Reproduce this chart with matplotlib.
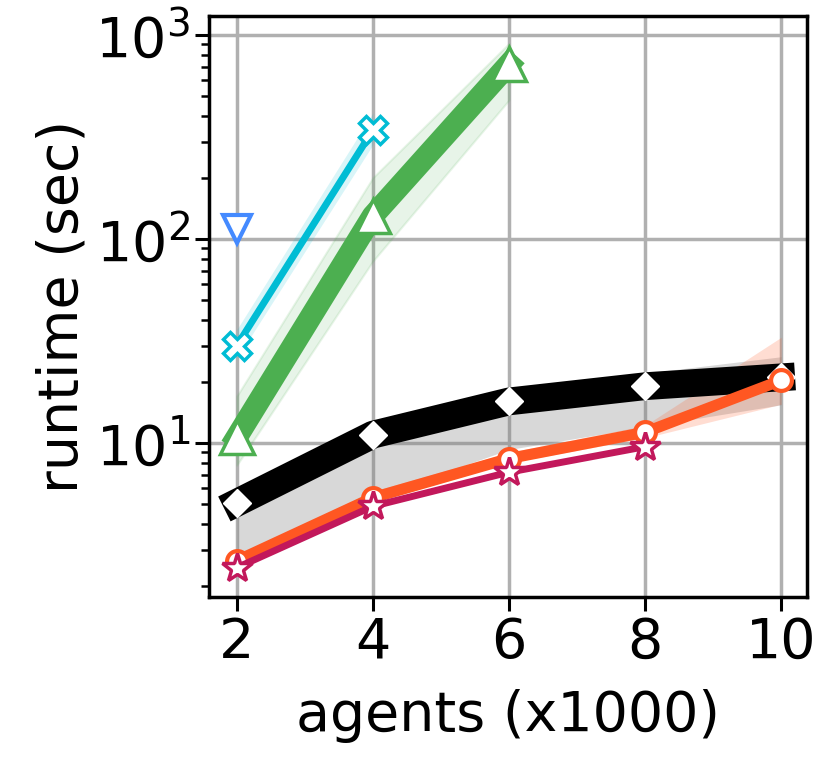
import numpy as np
import matplotlib
matplotlib.use("Agg")
import matplotlib.pyplot as plt

# agents (x1000)
x_all = [2, 4, 6, 8, 10]

# runtime (sec)
blue_x = [2]
blue_y = [112]

cyan_x = [2, 4]
cyan_y = [30, 342]
cyan_lo = [26, 290]
cyan_hi = [36, 415]

green_x = [2, 4, 6]
green_y = [10.7, 130, 720]
green_lo = [7.8, 78, 480]
green_hi = [17, 200, 910]

black_x = [2, 4, 6, 8, 10]
black_y = [5.1, 11.0, 16.0, 19.0, 21.0]
black_lo = [2.6, 5.4, 9.3, 12.0, 15.4]
black_hi = [5.6, 12.0, 18.0, 22.0, 26.5]

orange_x = [2, 4, 6, 8, 10]
orange_y = [2.65, 5.4, 8.4, 11.3, 20.3]
orange_lo = [2.5, 5.1, 8.0, 10.6, 15.5]
orange_hi = [2.8, 5.8, 9.0, 12.2, 33.0]

magenta_x = [2, 4, 6, 8]
magenta_y = [2.45, 4.9, 7.2, 9.6]

fig = plt.figure(figsize=(8.29, 7.61), dpi=100)
ax = fig.add_subplot(111)
fig.subplots_adjust(left=0.252, right=0.9735, top=0.979, bottom=0.2155)

# black series
ax.fill_between(black_x, black_lo, black_hi, color="#808080", alpha=0.3, lw=0)
ax.plot(black_x, black_y, color="black", lw=20, solid_capstyle="projecting",
        marker="D", ms=14, mfc="white", mec="white", zorder=3)

# orange
ax.fill_between(orange_x, orange_lo, orange_hi, color="#ff5722", alpha=0.2, lw=0)
ax.plot(orange_x, orange_y, color="#ff5722", lw=8, marker="o", ms=15,
        mfc="white", mec="#ff5722", mew=3, zorder=4)

# magenta
ax.plot(magenta_x, magenta_y, color="#c2185b", lw=5, marker="*", ms=22,
        mfc="white", mec="#c2185b", mew=2.5, zorder=5)

# green
ax.fill_between(green_x, green_lo, green_hi, color="#4caf50", alpha=0.13, lw=1.5,
                edgecolor="#4caf50")
ax.plot(green_x, green_y, color="#4caf50", lw=16, marker="^", ms=24,
        mfc="white", mec="#4caf50", mew=2.5, zorder=4)

# cyan
ax.fill_between(cyan_x, cyan_lo, cyan_hi, color="#00bcd4", alpha=0.15, lw=0)
ax.plot(cyan_x, cyan_y, color="#00bcd4", lw=5, marker="X", ms=20,
        mfc="white", mec="#00bcd4", mew=2.5, zorder=4)

# blue
ax.plot(blue_x, blue_y, color="#448aff", lw=4, marker="v", ms=20,
        mfc="white", mec="#448aff", mew=3, ls="none", zorder=4)

ax.set_yscale("log")
ax.set_xlim(1.59, 10.38)
ax.set_ylim(1.76, 1240)
ax.set_xticks(x_all)
ax.grid(True, color="#b0b0b0", lw=2.5)
ax.set_axisbelow(True)

for s in ax.spines.values():
    s.set_linewidth(2.5)
ax.tick_params(axis="both", which="major", labelsize=40, length=10, width=2.2)
ax.tick_params(axis="y", which="minor", length=6, width=1.8)
ax.set_xlabel("agents (x1000)", fontsize=40, labelpad=14)
ax.set_ylabel("runtime (sec)", fontsize=40)

fig.savefig("out.png", dpi=100)
